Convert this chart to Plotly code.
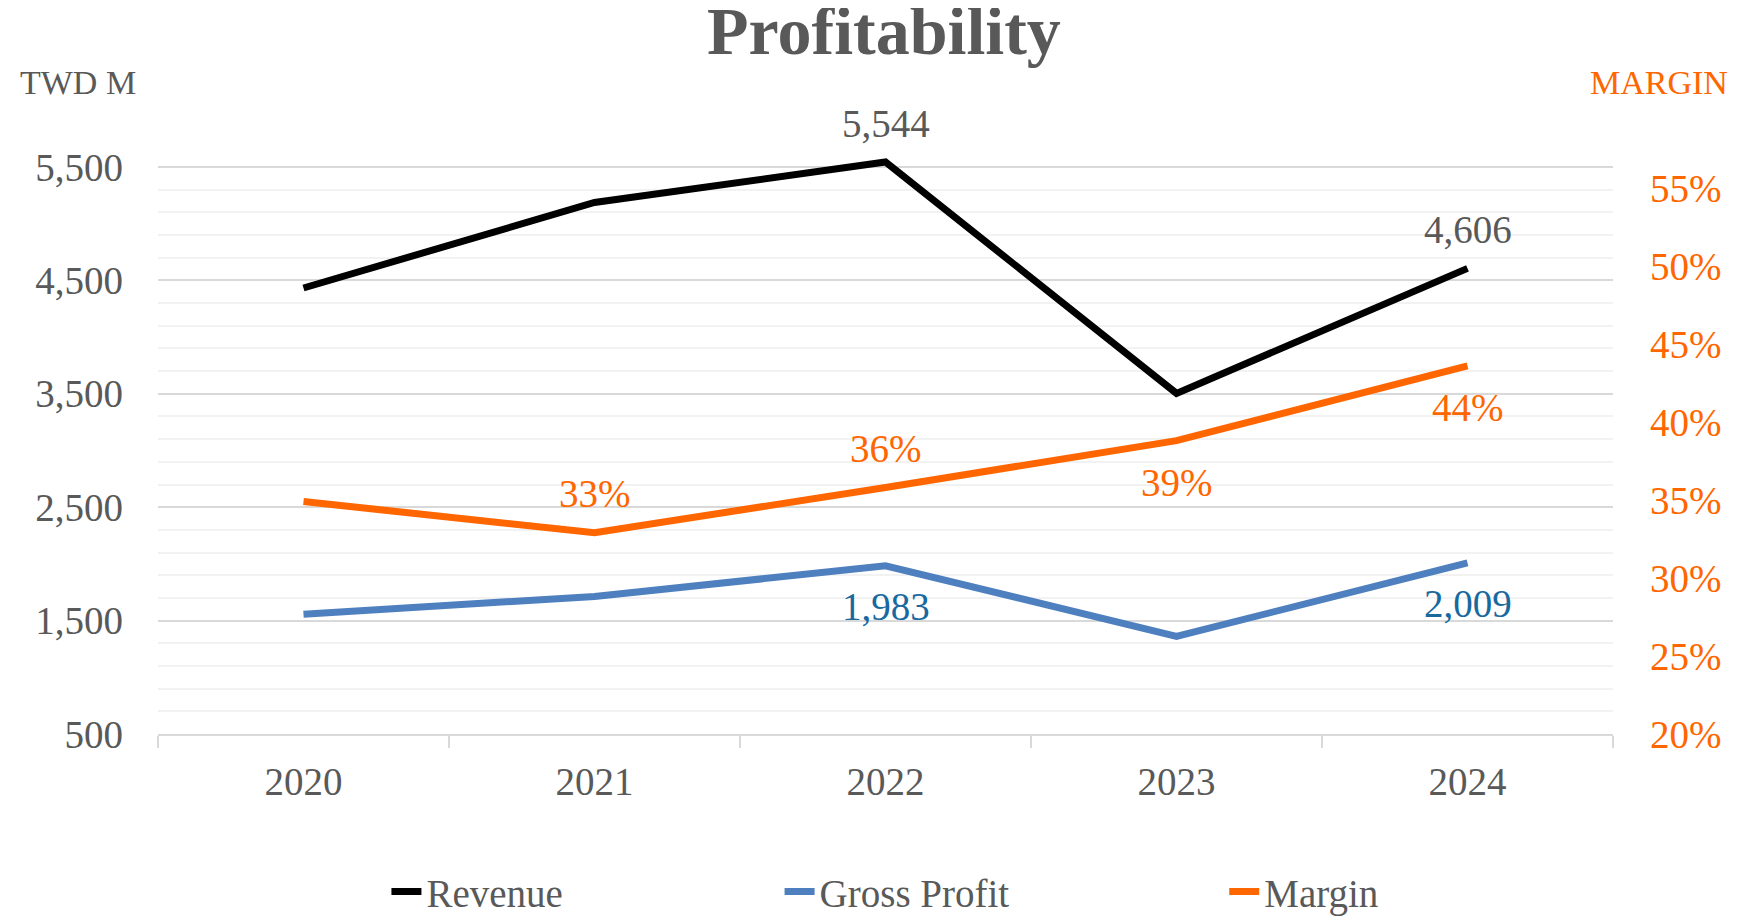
import plotly.graph_objects as go

years = ["2020", "2021", "2022", "2023", "2024"]
revenue = [4433, 5187, 5544, 3504, 4606]
gross_profit = [1557, 1713, 1983, 1361, 2009]
margin = [0.349, 0.329, 0.358, 0.388, 0.436]

rev_labels = ["", "", "5,544", "", "4,606"]
gp_labels = ["", "", "1,983", "", "2,009"]
margin_labels = ["", "33%", "36%", "39%", "44%"]
margin_label_side = ["", "above", "above", "below", "below"]

FONT = "Liberation Serif"
GRAY = "#595959"
ORANGE = "#FF6600"
BLUE = "#4E7FBE"
BLUE_TXT = "#19699F"

fig = go.Figure()
fig.add_trace(go.Scatter(x=years, y=revenue, name="Revenue", mode="lines",
                         line=dict(color="#000000", width=7), legend="legend"))
fig.add_trace(go.Scatter(x=years, y=gross_profit, name="Gross Profit", mode="lines",
                         line=dict(color=BLUE, width=7), legend="legend2"))
fig.add_trace(go.Scatter(x=years, y=margin, name="Margin", mode="lines",
                         line=dict(color=ORANGE, width=7), yaxis="y2", legend="legend3"))

ann = []
for i, (v, t) in enumerate(zip(revenue, rev_labels)):
    if t:
        ann.append(dict(x=i, y=v, text=t, showarrow=False, yshift=39, xref="x", yref="y",
                        font=dict(family=FONT, size=39, color=GRAY)))
for i, (v, t) in enumerate(zip(gross_profit, gp_labels)):
    if t:
        ann.append(dict(x=i, y=v, text=t, showarrow=False, yshift=-41, xref="x", yref="y",
                        font=dict(family=FONT, size=39, color=BLUE_TXT)))
for i, (v, t, s) in enumerate(zip(margin, margin_labels, margin_label_side)):
    if t:
        ann.append(dict(x=i, y=v, text=t, showarrow=False, yshift=39 if s == "above" else -42,
                        xref="x", yref="y2", font=dict(family=FONT, size=39, color=ORANGE)))

# chart title
ann.append(dict(x=0.499, y=1.203, xref="paper", yref="paper", xanchor="center", yanchor="middle",
                text="<b>Profitability</b>", showarrow=False,
                font=dict(family=FONT, size=68, color=GRAY)))
ann.append(dict(x=-0.0962, y=1.1157, xref="paper", yref="paper", xanchor="left", yanchor="middle",
                text="TWD M", showarrow=False, font=dict(family=FONT, size=34, color=GRAY)))
ann.append(dict(x=1.0804, y=1.1157, xref="paper", yref="paper", xanchor="right", yanchor="middle",
                text="MARGIN", showarrow=False, font=dict(family=FONT, size=34, color=ORANGE)))

legend_common = dict(orientation="h", yanchor="middle", y=-0.27, xanchor="left",
                     font=dict(family=FONT, size=39, color=GRAY), bgcolor="rgba(0,0,0,0)")

# page body has an 8px margin; figure is sized/margined so the plot lands where the reference has it
fig.update_layout(
    width=1731, height=908,
    paper_bgcolor="white", plot_bgcolor="white",
    margin=dict(l=150, r=126, t=142, b=182, autoexpand=False),
    font=dict(family=FONT, color=GRAY),
    showlegend=True,
    xaxis=dict(type="category", range=[-0.5, 4.5], showgrid=False, showline=True, automargin=False,
               linecolor="#D9D9D9", linewidth=2, ticks="outside", tickson="boundaries",
               ticklen=12, tickcolor="#D9D9D9", tickwidth=2,
               tickfont=dict(family=FONT, size=39, color=GRAY), ticklabelstandoff=12),
    yaxis=dict(range=[500, 5650], tick0=500, dtick=1000, tickformat=",", showline=False,
               gridcolor="#D9D9D9", gridwidth=2, zeroline=False, automargin=False,
               tickfont=dict(family=FONT, size=39, color=GRAY), ticklabelstandoff=34,
               minor=dict(tick0=500, dtick=200, showgrid=True, gridcolor="#F2F2F2", gridwidth=2)),
    yaxis2=dict(overlaying="y", side="right", range=[0.20, 0.5743], tick0=0.2, dtick=0.05,
                tickformat=".0%", showgrid=False, zeroline=False, showline=False, automargin=False,
                tickfont=dict(family=FONT, size=39, color=ORANGE), ticklabelstandoff=36),
    legend=dict(x=0.157, **legend_common),
    legend2=dict(x=0.4272, **legend_common),
    legend3=dict(x=0.7328, **legend_common),
    annotations=ann,
)

fig.write_html("out.html")
